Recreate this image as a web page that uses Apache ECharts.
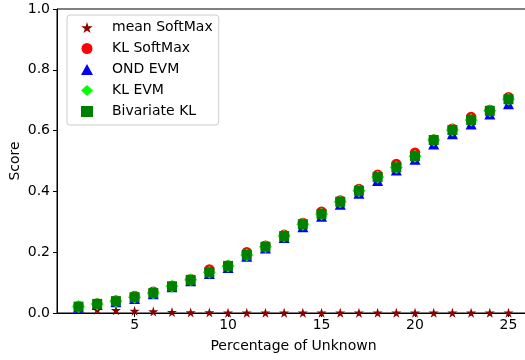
<!DOCTYPE html>
<html>
<head>
<meta charset="utf-8">
<script src="https://cdn.jsdelivr.net/npm/echarts@6/dist/echarts.min.js"></script>
<style>
  html, body { margin: 0; padding: 0; background: #fff; }
  #chart-container { width: 525px; height: 360px; }
</style>
</head>
<body>
<div id="chart-container"></div>
<script>
var xValues = [2, 3, 4, 5, 6, 7, 8, 9, 10, 11, 12, 13, 14, 15, 16, 17, 18, 19, 20, 21, 22, 23, 24, 25];

var meanSoftMax = [0.014, 0.011, 0.009, 0.007, 0.005, 0.003, 0.002, 0.002, 0.001, 0.001, 0.001, 0.001,
  0.001, 0.001, 0.001, 0.001, 0.001, 0.001, 0.001, 0.001, 0.001, 0.001, 0.001, 0.001];
var klSoftMax = [0.022, 0.031, 0.041, 0.056, 0.070, 0.089, 0.111, 0.143, 0.156, 0.200, 0.221, 0.257,
  0.296, 0.333, 0.370, 0.408, 0.455, 0.490, 0.527, 0.571, 0.606, 0.645, 0.668, 0.710];
var ondEvm = [0.019, 0.028, 0.037, 0.048, 0.063, 0.086, 0.106, 0.130, 0.150, 0.187, 0.214, 0.248,
  0.284, 0.318, 0.358, 0.394, 0.436, 0.470, 0.506, 0.556, 0.590, 0.622, 0.655, 0.688];
var klEvm = [0.021, 0.030, 0.039, 0.052, 0.066, 0.088, 0.109, 0.134, 0.155, 0.191, 0.218, 0.253,
  0.292, 0.326, 0.366, 0.402, 0.447, 0.479, 0.516, 0.569, 0.602, 0.635, 0.665, 0.703];
var bivariateKl = [0.021, 0.030, 0.039, 0.052, 0.066, 0.088, 0.109, 0.134, 0.155, 0.191, 0.218, 0.253,
  0.292, 0.326, 0.366, 0.402, 0.447, 0.479, 0.516, 0.569, 0.602, 0.635, 0.665, 0.703];

var starPath = 'path://M50,0 L61,35 L98,35 L68,57 L79,91 L50,70 L21,91 L32,57 L2,35 L39,35 Z';

function pairs(ys) {
  return xValues.map(function (x, i) { return [x, ys[i]]; });
}

var font = 'DejaVu Sans';

var dom = document.getElementById('chart-container');
var myChart = echarts.init(dom, null, { renderer: 'canvas' });

var seriesDefs = [
  { name: 'mean SoftMax', data: meanSoftMax, symbol: starPath, size: 10, color: '#8b0000' },
  { name: 'KL SoftMax', data: klSoftMax, symbol: 'circle', size: 10.5, color: '#ff0000' },
  { name: 'OND EVM', data: ondEvm, symbol: 'triangle', size: 11, color: '#0000ff' },
  { name: 'KL EVM', data: klEvm, symbol: 'diamond', size: 13, color: '#00ff00' },
  { name: 'Bivariate KL', data: bivariateKl, symbol: 'rect', size: 10, color: '#008000' }
];

var option = {
  animation: false,
  grid: {
    left: 57,
    top: 9,
    width: 473,
    height: 304,
    outerBoundsMode: 'none',
    containLabel: false,
    show: true,
    borderColor: '#000',
    borderWidth: 1,
    backgroundColor: 'transparent'
  },
  xAxis: {
    type: 'value',
    min: 0.85,
    max: 26.15,
    splitNumber: 5,
    name: 'Percentage of Unknown',
    nameLocation: 'middle',
    nameGap: 26,
    nameMoveOverlap: false,
    nameTextStyle: { fontFamily: font, fontSize: 14, color: '#000' },
    axisLine: { onZero: false, lineStyle: { color: '#000', width: 1 } },
    axisTick: { inside: false, length: 4, lineStyle: { color: '#000' } },
    axisLabel: {
      fontFamily: font, fontSize: 14, color: '#000', margin: 5,
      showMinLabel: false, showMaxLabel: false
    },
    splitLine: { show: false }
  },
  yAxis: {
    type: 'value',
    min: 0,
    max: 1,
    interval: 0.2,
    name: 'Score',
    nameLocation: 'middle',
    nameGap: 35,
    nameMoveOverlap: false,
    nameTextStyle: { fontFamily: font, fontSize: 14, color: '#000' },
    axisLine: { show: true, lineStyle: { color: '#000', width: 1 } },
    axisTick: { show: true, inside: false, length: 4, lineStyle: { color: '#000' } },
    axisLabel: {
      fontFamily: font, fontSize: 14, color: '#000', margin: 7,
      formatter: function (v) { return v.toFixed(1); }
    },
    splitLine: { show: false }
  },
  legend: {
    orient: 'vertical',
    left: 67,
    top: 15,
    padding: [5, 6, 6, 14],
    itemWidth: 12,
    itemHeight: 11,
    itemGap: 6,
    borderColor: '#cccccc',
    borderWidth: 1,
    borderRadius: 3,
    backgroundColor: 'rgba(255,255,255,0.8)',
    textStyle: { fontFamily: font, fontSize: 14, color: '#000', lineHeight: 15, padding: [0, 0, 0, 14] },
    data: seriesDefs.map(function (s) {
      return { name: s.name, icon: s.symbol };
    })
  },
  series: seriesDefs.map(function (s) {
    return {
      type: 'scatter',
      name: s.name,
      data: pairs(s.data),
      symbol: s.symbol,
      symbolSize: s.size,
      itemStyle: { color: s.color, opacity: 1 },
      clip: false
    };
  })
};

myChart.setOption(option);
</script>
</body>
</html>
